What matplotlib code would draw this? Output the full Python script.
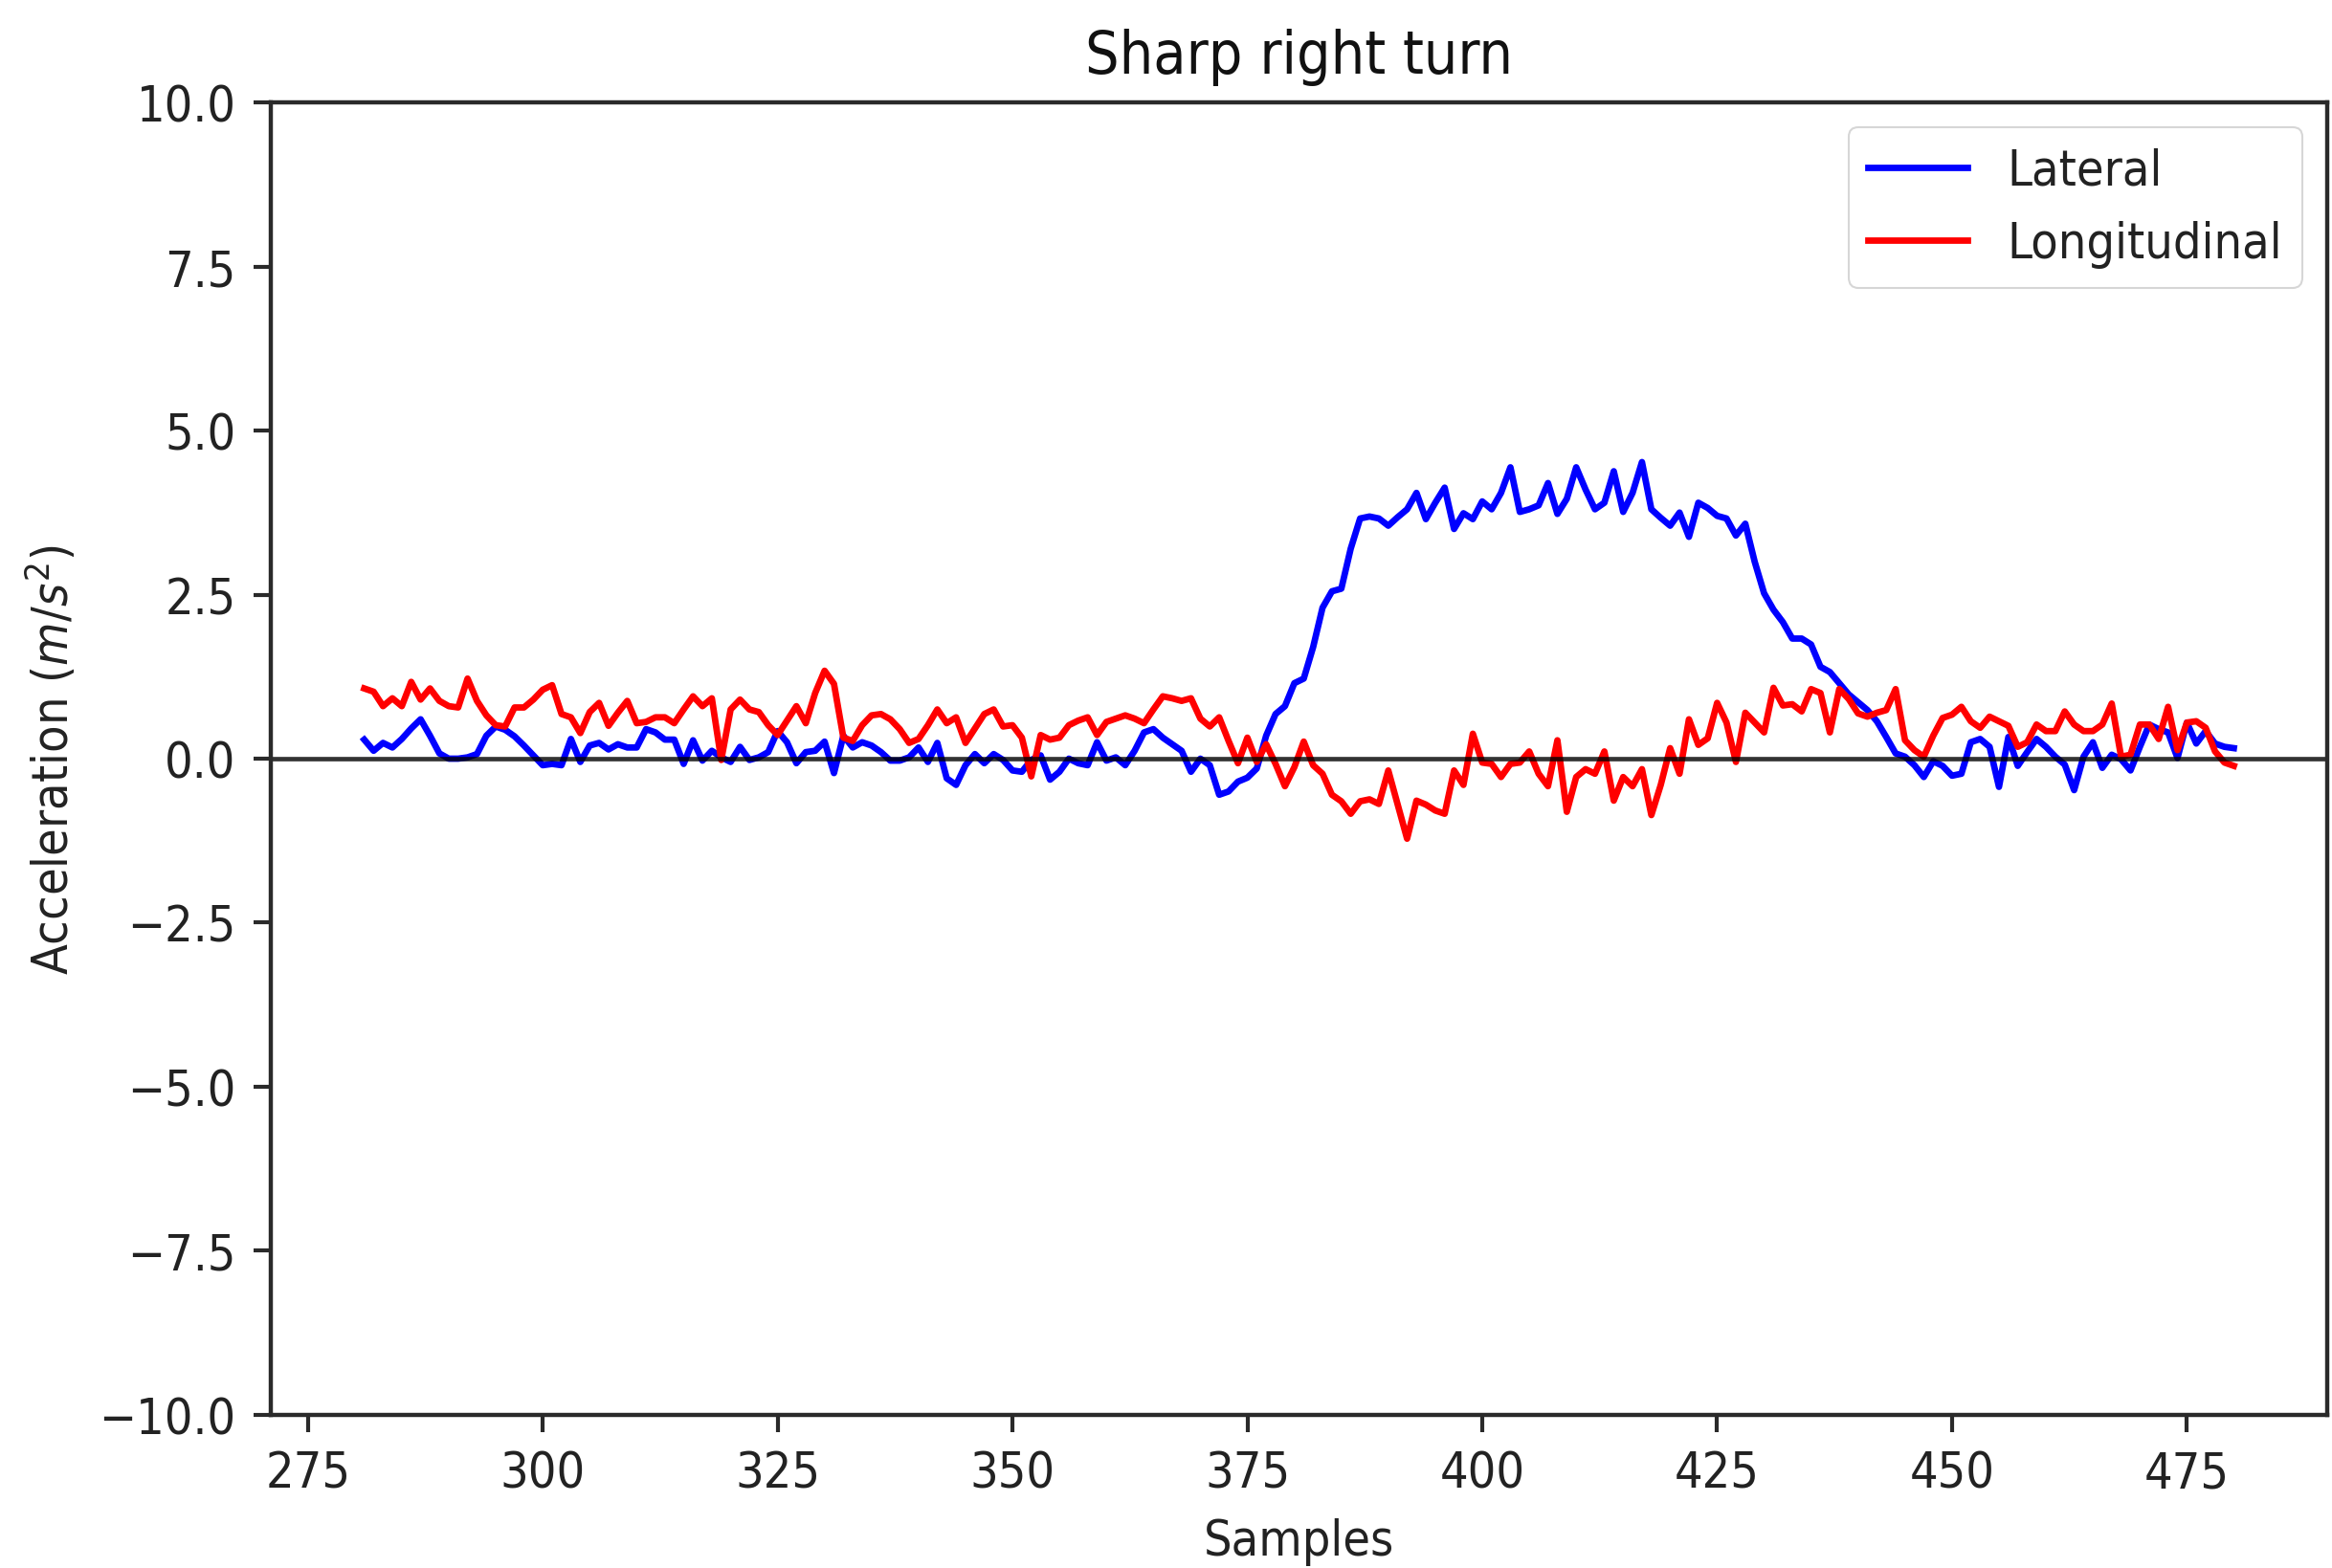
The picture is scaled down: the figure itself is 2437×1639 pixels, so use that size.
import numpy as np
import matplotlib
matplotlib.use("Agg")
import matplotlib.pyplot as plt

# ---- data ----
samples = list(range(281, 481))

lateral = [
    0.29, 0.12, 0.24, 0.17, 0.30, 0.46, 0.60, 0.35, 0.08, 0.00,
    0.00, 0.02, 0.07, 0.35, 0.49, 0.44, 0.34, 0.20, 0.05, -0.10,
    -0.08, -0.10, 0.30, -0.05, 0.20, 0.24, 0.14, 0.22, 0.17, 0.17,
    0.45, 0.40, 0.29, 0.29, -0.08, 0.28, -0.03, 0.12, 0.02, -0.05,
    0.18, -0.02, 0.02, 0.10, 0.42, 0.25, -0.07, 0.10, 0.12, 0.26,
    -0.22, 0.35, 0.17, 0.25, 0.20, 0.10, -0.03, -0.03, 0.02, 0.17,
    -0.05, 0.24, -0.30, -0.40, -0.10, 0.07, -0.07, 0.07, -0.02, -0.18,
    -0.20, -0.02, 0.05, -0.32, -0.20, 0.00, -0.07, -0.10, 0.25, -0.03,
    0.02, -0.10, 0.12, 0.40, 0.45, 0.32, 0.22, 0.12, -0.20, 0.00,
    -0.10, -0.55, -0.50, -0.35, -0.29, -0.15, 0.35, 0.68, 0.80, 1.15,
    1.22, 1.70, 2.30, 2.55, 2.59, 3.20, 3.66, 3.69, 3.66, 3.55,
    3.68, 3.80, 4.05, 3.65, 3.90, 4.13, 3.50, 3.74, 3.65, 3.92,
    3.80, 4.05, 4.44, 3.76, 3.80, 3.86, 4.20, 3.73, 3.96, 4.44,
    4.10, 3.80, 3.90, 4.38, 3.76, 4.05, 4.52, 3.80, 3.67, 3.55,
    3.75, 3.38, 3.90, 3.82, 3.70, 3.66, 3.40, 3.58, 3.00, 2.52,
    2.27, 2.08, 1.83, 1.83, 1.74, 1.40, 1.32, 1.15, 0.98, 0.86,
    0.74, 0.57, 0.33, 0.08, 0.03, -0.10, -0.28, -0.04, -0.11, -0.26,
    -0.23, 0.25, 0.30, 0.18, -0.43, 0.33, -0.11, 0.10, 0.30, 0.18,
    0.03, -0.09, -0.48, 0.03, 0.25, -0.14, 0.06, -0.01, -0.18, 0.18,
    0.52, 0.45, 0.40, 0.01, 0.55, 0.23, 0.42, 0.23, 0.18, 0.16,
]

longitudinal = [
    1.07, 1.02, 0.80, 0.92, 0.80, 1.17, 0.90, 1.07, 0.88, 0.80,
    0.78, 1.22, 0.88, 0.66, 0.51, 0.49, 0.78, 0.78, 0.90, 1.05,
    1.12, 0.68, 0.63, 0.39, 0.71, 0.85, 0.50, 0.70, 0.88, 0.54,
    0.56, 0.63, 0.63, 0.54, 0.75, 0.95, 0.80, 0.92, -0.02, 0.75,
    0.90, 0.75, 0.71, 0.51, 0.36, 0.58, 0.80, 0.54, 1.00, 1.34,
    1.14, 0.32, 0.27, 0.51, 0.66, 0.68, 0.60, 0.45, 0.24, 0.30,
    0.51, 0.75, 0.54, 0.63, 0.24, 0.46, 0.68, 0.75, 0.49, 0.51,
    0.32, -0.27, 0.36, 0.29, 0.32, 0.51, 0.58, 0.63, 0.36, 0.56,
    0.61, 0.66, 0.61, 0.54, 0.75, 0.95, 0.92, 0.88, 0.92, 0.61,
    0.49, 0.63, 0.27, -0.07, 0.32, -0.05, 0.22, -0.08, -0.42, -0.13,
    0.26, -0.10, -0.23, -0.55, -0.65, -0.84, -0.65, -0.62, -0.69, -0.18,
    -0.70, -1.22, -0.64, -0.70, -0.79, -0.84, -0.18, -0.40, 0.38, -0.06,
    -0.08, -0.28, -0.08, -0.06, 0.11, -0.23, -0.42, 0.28, -0.81, -0.28,
    -0.16, -0.23, 0.11, -0.64, -0.28, -0.42, -0.16, -0.86, -0.40, 0.16,
    -0.23, 0.60, 0.21, 0.31, 0.85, 0.55, -0.05, 0.70, 0.55, 0.40,
    1.08, 0.81, 0.83, 0.72, 1.06, 1.00, 0.40, 1.06, 0.91, 0.69,
    0.64, 0.70, 0.74, 1.06, 0.28, 0.13, 0.03, 0.35, 0.62, 0.67,
    0.79, 0.57, 0.47, 0.64, 0.57, 0.50, 0.18, 0.25, 0.52, 0.42,
    0.42, 0.72, 0.52, 0.42, 0.42, 0.52, 0.84, 0.03, 0.06, 0.52,
    0.52, 0.30, 0.79, 0.13, 0.55, 0.57, 0.47, 0.11, -0.06, -0.11,
]

series_labels = ["Lateral", "Longitudinal"]
yticks = [-10.0, -7.5, -5.0, -2.5, 0.0, 2.5, 5.0, 7.5, 10.0]
xticks = [275, 300, 325, 350, 375, 400, 425, 450, 475]

# ---- styling ----
S = 3.74  # overall scale relative to matplotlib defaults
plt.rcParams['font.family'] = ['DejaVu Sans']
plt.rcParams['font.stretch'] = 'condensed'
plt.rcParams['axes.linewidth'] = 0.85 * S
plt.rcParams['xtick.major.width'] = 0.8 * S
plt.rcParams['ytick.major.width'] = 0.8 * S
plt.rcParams['xtick.major.size'] = 3.5 * S
plt.rcParams['ytick.major.size'] = 3.5 * S
plt.rcParams['xtick.major.pad'] = 3.5 * S
plt.rcParams['ytick.major.pad'] = 3.5 * S
plt.rcParams['axes.edgecolor'] = '#2a2a2a'
plt.rcParams['xtick.color'] = '#2a2a2a'
plt.rcParams['ytick.color'] = '#2a2a2a'

fig = plt.figure(figsize=(24.37, 16.40), dpi=100)
ax = fig.add_axes([0.1161, 0.0976, 0.998 - 0.1161, 0.9341 - 0.0976])

ax.plot(samples, lateral, color='b', lw=1.3 * S, label=series_labels[0])
ax.plot(samples, longitudinal, color='r', lw=1.3 * S, label=series_labels[1])
ax.axhline(0, color='k', lw=0.9 * S, alpha=0.8)

ax.set_ylim(-10, 10)
ax.set_yticks(yticks)
ax.set_xticks(xticks)
ax.tick_params(labelsize=10 * S, labelcolor='#222222')

ax.set_title("Sharp right turn", fontsize=12 * S, pad=6 * S, color='#111111')
ax.set_xlabel("Samples", fontsize=10 * S, labelpad=4 * S, color='#222222')
ax.set_ylabel("Acceleration ($m/s^2$)", fontsize=10 * S, labelpad=4 * S, color='#222222')

leg = ax.legend(loc='upper right', fontsize=10 * S, borderaxespad=0.5, framealpha=0.8)
leg.get_frame().set_linewidth(0.8 * S * 0.5)
for t in leg.get_texts():
    t.set_color('#222222')

fig.savefig("out.png", dpi=100)
